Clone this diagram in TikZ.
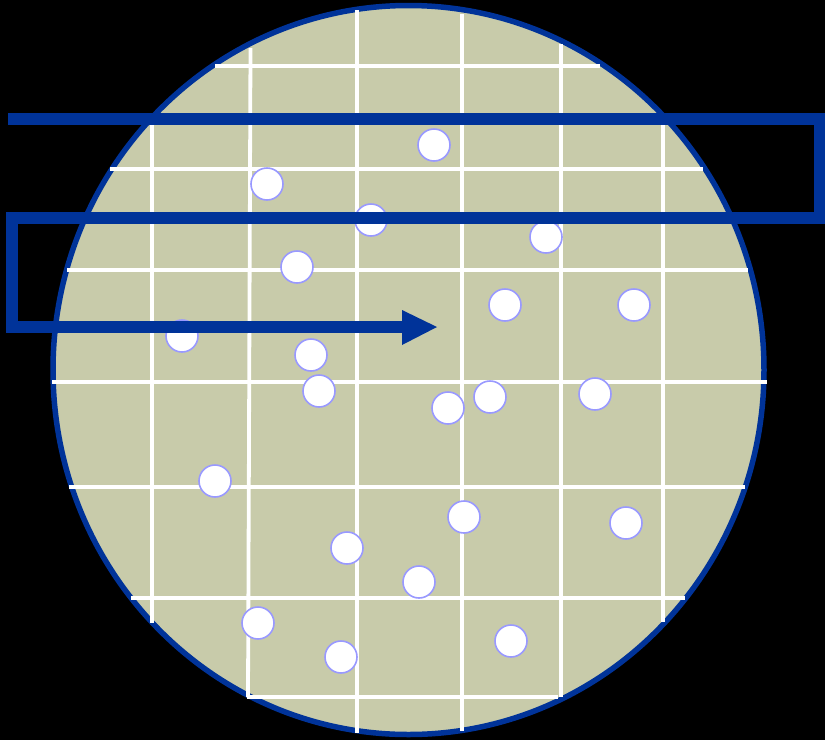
\documentclass[tikz,border=0pt]{standalone}
\usetikzlibrary{arrows.meta}
\definecolor{plate}{HTML}{C8CBAA}
\definecolor{rim}{HTML}{003399}
\definecolor{dotedge}{HTML}{9999FF}
\tikzset{
  gridline/.style={draw=white,line width=3.8pt},
  colony/.style={circle,fill=white,draw=dotedge,line width=1.6pt,minimum size=32pt,inner sep=0pt},
  route/.style={draw=rim,line width=11.5pt,miter limit=10}
}
\begin{document}
\begin{tikzpicture}[x=1pt,y=-1pt]
\useasboundingbox (0,0) rectangle (825,740);
\fill[black] (0,0) rectangle (825,740);
% plate
\fill[plate] (408.5,370) ellipse[x radius=355.5,y radius=364.5];
\draw[rim,line width=5.5pt] (408.5,370) ellipse[x radius=355.5,y radius=364.5];
% grid
\draw[gridline] (152,115) -- (152,623);
\draw[gridline] (250.5,48) -- (248,697);
\draw[gridline] (357,10) -- (357,733);
\draw[gridline] (462,14) -- (462,731);
\draw[gridline] (561,44) -- (561,697);
\draw[gridline] (663,113) -- (663,622);
\draw[gridline] (215,66) -- (600,66);
\draw[gridline] (110,169) -- (703,169);
\draw[gridline] (67,270) -- (748,270);
\draw[gridline] (52,382) -- (767,382);
\draw[gridline] (69,487) -- (745,487);
\draw[gridline] (131,598) -- (685,598);
\draw[gridline] (247,697) -- (558,697);
% colonies
\node[colony] (c1) at (434,145) {};
\node[colony] (c2) at (267,184) {};
\node[colony] (c3) at (371,220) {};
\node[colony] (c4) at (546,237) {};
\node[colony] (c5) at (297,267) {};
\node[colony] (c6) at (505,305) {};
\node[colony] (c7) at (634,305) {};
\node[colony] (c8) at (182,336) {};
\node[colony] (c9) at (311,355) {};
\node[colony] (c10) at (319,391) {};
\node[colony] (c11) at (448,408) {};
\node[colony] (c12) at (490,397) {};
\node[colony] (c13) at (595,394) {};
\node[colony] (c14) at (215,481) {};
\node[colony] (c15) at (464,517) {};
\node[colony] (c16) at (626,523) {};
\node[colony] (c17) at (347,548) {};
\node[colony] (c18) at (419,582) {};
\node[colony] (c19) at (258,623) {};
\node[colony] (c20) at (341,657) {};
\node[colony] (c21) at (511,641) {};
% counting route
\coordinate (r0) at (8,119);
\coordinate (r1) at (820,119);
\coordinate (r2) at (820,218);
\coordinate (r3) at (12,218);
\coordinate (r4) at (12,327);
\coordinate (r5) at (405,327);
\coordinate (tip) at (437,327);
\draw[route] (r0) -- (r1) -- (r2) -- (r3) -- (r4) -- (r5);
\fill[rim] (402,310) -- (tip) -- (402,345) -- cycle;
\end{tikzpicture}
\end{document}
